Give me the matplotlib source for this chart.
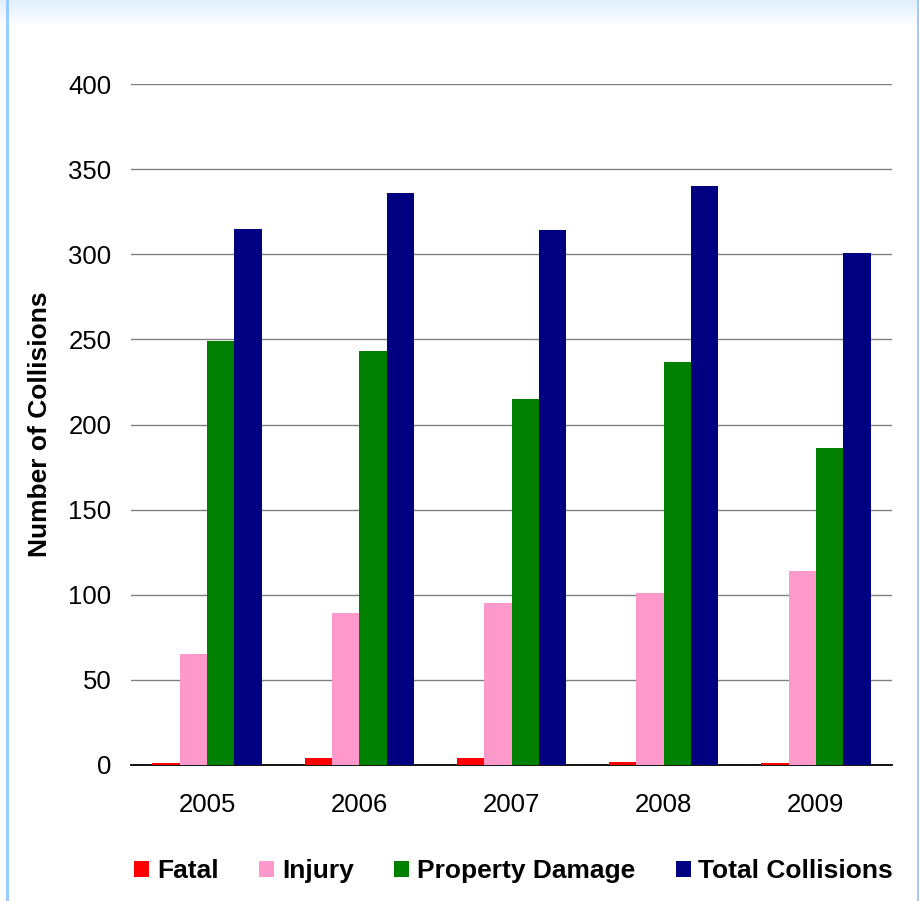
import numpy as np
import matplotlib
matplotlib.use('Agg')
from matplotlib import pyplot as plt
from matplotlib.patches import Rectangle

plt.rcParams['font.family'] = ['Liberation Sans', 'DejaVu Sans']

years = ['2005', '2006', '2007', '2008', '2009']
fatal = [1, 4, 4, 2, 1]
injury = [65, 89, 95, 101, 114]
property_damage = [249, 243, 215, 237, 186]
total = [315, 336, 314, 340, 301]

series = [('Fatal', fatal, '#ff0000'),
          ('Injury', injury, '#ff99cc'),
          ('Property Damage', property_damage, '#008000'),
          ('Total Collisions', total, '#000080')]

fig = plt.figure(figsize=(9.2, 9.01), dpi=100)

# light blue gradient strip at top + left/right border
grad = fig.add_axes([0, 0, 1, 1], zorder=-10)
grad.set_axis_off()
g = np.linspace(0, 1, 100).reshape(-1, 1)
grad.imshow(np.dstack([0.88 + 0.12 * g, 0.94 + 0.06 * g, np.ones_like(g)]),
            extent=[0, 1, 1 - 27 / 901, 1], aspect='auto', origin='upper')
grad.set_xlim(0, 1)
grad.set_ylim(0, 1)
grad.add_patch(Rectangle((6 / 920, 0), 3 / 920, 1, color='#99ccff', lw=0))
grad.add_patch(Rectangle((917 / 920, 0), 3 / 920, 1, color='#99ccff', lw=0))

ax = fig.add_axes([131 / 920, (901 - 765) / 901, (892 - 131) / 920, (765 - 84) / 901])
x = np.arange(len(years))
w = 0.18
for i, (name, vals, col) in enumerate(series):
    ax.bar(x + (i - 1.5) * w, vals, w, color=col, label=name, zorder=3)

ax.set_xlim(-0.5, len(years) - 0.5)
ax.set_ylim(0, 400)
ax.set_yticks(range(0, 401, 50))
ax.set_xticks(x)
ax.set_xticklabels(years)
ax.yaxis.grid(True, color='#808080', lw=1)
ax.set_axisbelow(True)
for s in ['top', 'right', 'left']:
    ax.spines[s].set_visible(False)
ax.spines['bottom'].set_color('black')
ax.spines['bottom'].set_linewidth(1.3)
ax.tick_params(axis='both', length=0, labelsize=18.5)
ax.tick_params(axis='y', pad=14)
ax.tick_params(axis='x', pad=20)
ax.set_ylabel('Number of Collisions', fontsize=19, fontweight='bold', labelpad=12)

ax.legend(loc='center', bbox_to_anchor=(0.503, -(871 - 765) / (765 - 84)),
          ncol=4, frameon=False, prop={'size': 19, 'weight': 'bold'},
          handlelength=0.55, handleheight=0.55, handletextpad=0.3, columnspacing=1.55)

fig.savefig('out.png', dpi=100, facecolor='white')
